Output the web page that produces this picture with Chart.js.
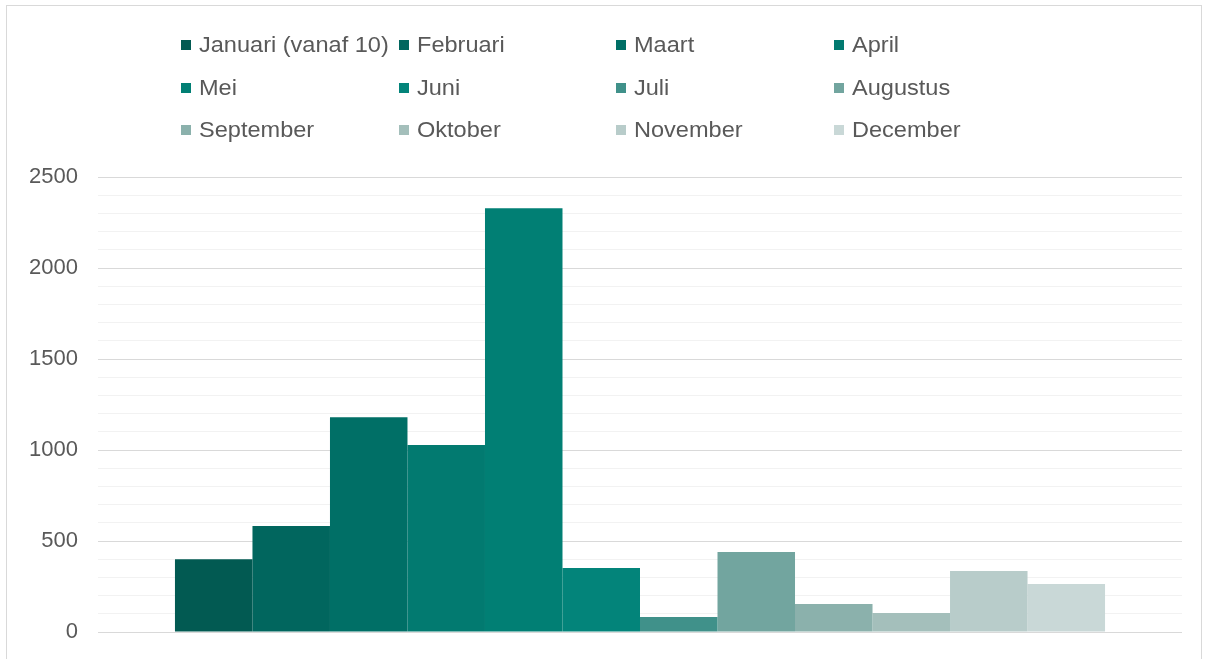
<!DOCTYPE html>
<html>
<head>
<meta charset="utf-8">
<script src="https://cdn.jsdelivr.net/npm/chart.js@4.4.0/dist/chart.umd.min.js"></script>
<style>
  html, body { margin: 0; padding: 0; background: #fff; }
  #wrap { position: relative; width: 1206px; height: 659px; overflow: hidden; }
  #frame { position: absolute; left: 6px; top: 5px; width: 1196px; height: 660px; border: 1px solid #d9d9d9; box-sizing: border-box; }
  #chart { position: absolute; left: 0; top: 0; }
  .item { position: absolute; font-family: "Liberation Sans", Arial, sans-serif; font-size: 22px; color: #595959; white-space: nowrap; line-height: 24px; }
  .item .box { display: inline-block; width: 10px; height: 10px; margin-right: 8px; vertical-align: 2px; }
  .item .txt { display: inline-block; transform: scaleX(1.07); transform-origin: left center; }
</style>
</head>
<body>
<div id="wrap">
  <div id="frame"></div>
  <canvas id="chart" width="1206" height="659"></canvas>
  <div id="legend"></div>
</div>
<script>
const months = ['Januari (vanaf 10)', 'Februari', 'Maart', 'April', 'Mei', 'Juni',
  'Juli', 'Augustus', 'September', 'Oktober', 'November', 'December'];
const counts = [400, 582, 1180, 1027, 2328, 351, 82, 439, 154, 104, 335, 264];
const yTicks = [0, 500, 1000, 1500, 2000, 2500];

const barColors = ['#025a52', '#01665e', '#006f66', '#027a70', '#017f74', '#03847a',
  '#40918a', '#72a59f', '#8bb1ac', '#a4bfbb', '#b8ccca', '#c9d8d7'];

// legend laid out as a 4-column grid, like the original
const legend = document.getElementById('legend');
months.forEach((m, i) => {
  const col = i % 4, row = Math.floor(i / 4);
  const el = document.createElement('div');
  el.className = 'item';
  el.style.left = (181 + col * 217.7) + 'px';
  el.style.top = (33 + row * 42.5) + 'px';
  el.innerHTML = `<span class="box" style="background:${barColors[i]}"></span><span class="txt">${m}</span>`;
  legend.appendChild(el);
});

new Chart(document.getElementById('chart'), {
  type: 'bar',
  data: {
    labels: [''],
    datasets: months.map((m, i) => ({
      label: m,
      data: [counts[i]],
      backgroundColor: barColors[i],
      borderWidth: 0,
      categoryPercentage: 0.858,
      barPercentage: 1
    }))
  },
  options: {
    responsive: false,
    animation: false,
    layout: { padding: { top: 177, bottom: 27, left: 8, right: 24 } },
    plugins: { legend: { display: false }, tooltip: { enabled: false } },
    scales: {
      x: { display: false },
      y: {
        min: 0,
        max: 2500,
        ticks: {
          stepSize: 100,
          autoSkip: false,
          padding: 20,
          color: '#595959',
          font: { family: '"Liberation Sans", Arial, sans-serif', size: 22 },
          callback: v => yTicks.includes(v) ? v : ''
        },
        grid: {
          drawTicks: false,
          lineWidth: 1,
          color: ctx => yTicks.includes(ctx.tick.value) ? '#d9d9d9' : '#f2f2f2'
        },
        border: { display: false },
        afterFit: s => {
          s.width = 90;
          // let the layout padding alone decide where the plot starts and ends
          s.paddingTop = 0;
          s.paddingBottom = 0;
        }
      }
    }
  }
});
</script>
</body>
</html>
